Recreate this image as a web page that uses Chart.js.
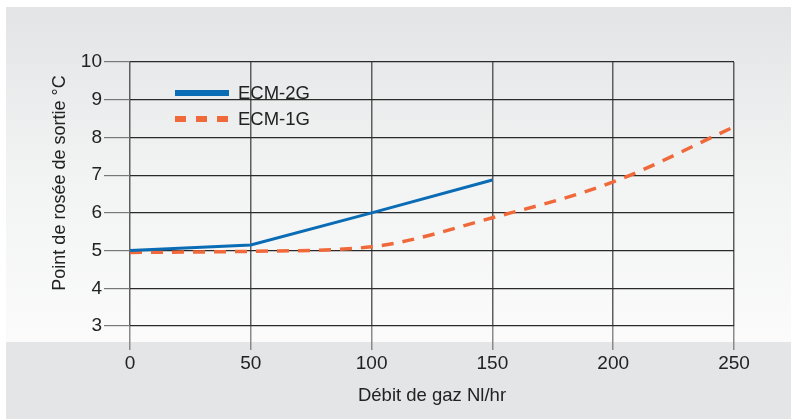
<!DOCTYPE html>
<html>
<head>
<meta charset="utf-8">
<script src="https://cdn.jsdelivr.net/npm/chart.js@4"></script>
<style>
  html, body { margin: 0; padding: 0; background: #fff; }
  #bg {
    position: absolute; left: 6px; top: 7px; width: 785px; height: 412px;
    background: linear-gradient(to bottom, #e3e4e5 0px, #f2f3f3 170px, #fbfbfb 335px, #e4e5e6 335px, #e4e5e6 100%);
  }
  #wrap { position: absolute; left: 0; top: 0; width: 791px; height: 419px; }
</style>
</head>
<body>
<div id="bg"></div>
<div id="wrap"><canvas id="chart" width="791" height="419"></canvas></div>
<script>
// values
const flowRates = [0, 50, 100, 150, 200, 250];
const ecm2g = [5.0, 5.15, 6.0, 6.87, null, null];
const ecm1g = [4.95, 4.98, 5.1, 5.87, 6.82, 8.28];
const seriesLabels = ['ECM-2G', 'ECM-1G'];
const xTitle = 'Débit de gaz Nl/hr';
const yTitle = 'Point de rosée de sortie °C';

const FONT = '"Liberation Sans", Arial, sans-serif';
const BLUE = '#0a6cb5';
const ORANGE = '#f0693a';

function toPoints(values) {
    return flowRates
        .map((x, i) => ({ x: x, y: values[i] }))
        .filter(p => p.y !== null);
}

// legend drawn inside the plot, read from the datasets
const insideLegend = {
    id: 'insideLegend',
    afterDraw(chart) {
        const ctx = chart.ctx;
        const rows = [93, 119];
        ctx.save();
        chart.data.datasets.forEach((ds, i) => {
            const y = rows[i];
            ctx.beginPath();
            ctx.strokeStyle = ds.borderColor;
            ctx.lineWidth = 6;
            ctx.setLineDash(ds.borderDash && ds.borderDash.length ? [11, 10] : []);
            ctx.moveTo(175, y);
            ctx.lineTo(229, y);
            ctx.stroke();
            ctx.setLineDash([]);
            ctx.fillStyle = '#222';
            ctx.font = '18.5px ' + FONT;
            ctx.textBaseline = 'middle';
            ctx.fillText(ds.label, 238, y + 1);
        });
        ctx.restore();
    }
};

// y title sits a bit above the plot's middle in the original
const yTitlePlugin = {
    id: 'yTitlePlugin',
    afterDraw(chart) {
        const ctx = chart.ctx;
        ctx.save();
        ctx.translate(60, 183);
        ctx.rotate(-Math.PI / 2);
        ctx.fillStyle = '#222';
        ctx.font = '18px ' + FONT;
        ctx.textAlign = 'center';
        ctx.textBaseline = 'middle';
        ctx.fillText(yTitle, 0, 0);
        ctx.restore();
    }
};

const ctx = document.getElementById('chart').getContext('2d');
new Chart(ctx, {
    type: 'line',
    data: {
        datasets: [{
            label: seriesLabels[0],
            data: toPoints(ecm2g),
            borderColor: BLUE,
            borderWidth: 3,
            pointRadius: 0,
            tension: 0
        }, {
            label: seriesLabels[1],
            data: toPoints(ecm1g),
            borderColor: ORANGE,
            borderWidth: 3.5,
            borderDash: [12, 9],
            pointRadius: 0,
            cubicInterpolationMode: 'monotone'
        }]
    },
    options: {
        responsive: false,
        animation: false,
        events: [],
        layout: { padding: { left: 51, top: 62, right: 57, bottom: 0 } },
        plugins: { legend: { display: false }, tooltip: { enabled: false } },
        scales: {
            x: {
                type: 'linear',
                min: 0, max: 250,
                border: { display: false },
                grid: { color: '#5e5e5e', lineWidth: 1.5, tickLength: 24, tickColor: '#8a8a8a', drawOnChartArea: true },
                ticks: { stepSize: 50, color: '#222', font: { family: FONT, size: 19 }, padding: 2, maxRotation: 0 },
                title: { display: true, text: xTitle, color: '#222', font: { family: FONT, size: 18.5 }, padding: { top: 0, bottom: 12 } },
                afterFit(scale) { scale.height = 419 - 326; }
            },
            y: {
                min: 3, max: 10,
                border: { display: false },
                grid: { color: '#2a2a2a', lineWidth: 1.2, tickLength: 26, tickColor: '#777' },
                ticks: { stepSize: 1, color: '#222', font: { family: FONT, size: 19 }, padding: 2 },
                afterFit(scale) { scale.width = 130 - 51; }
            }
        }
    },
    plugins: [insideLegend, yTitlePlugin]
});
</script>
</body>
</html>
